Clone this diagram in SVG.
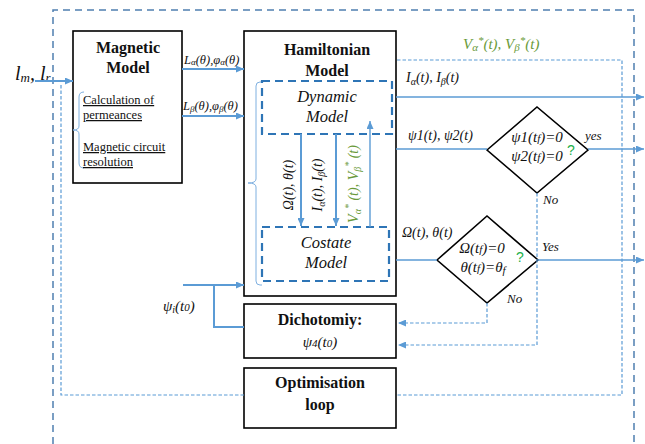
<svg xmlns="http://www.w3.org/2000/svg" width="645" height="444" viewBox="0 0 645 444">
<defs>
<style>
.box{fill:#fff;stroke:#000;stroke-width:1.6}
.sub{fill:none;stroke:#2e75b6;stroke-width:2.2;stroke-dasharray:8,5}
.outer{fill:none;stroke:#4f7fb0;stroke-width:1.5;stroke-dasharray:7,5}
.loop{fill:none;stroke:#5b9bd5;stroke-width:1.2;stroke-dasharray:3.5,2}
.ln{fill:none;stroke:#5b9bd5;stroke-width:2}
.thin{fill:none;stroke:#5b9bd5;stroke-width:1.4}
.br{fill:none;stroke:#7fb0e0;stroke-width:1}
.dia{fill:#fff;stroke:#000;stroke-width:1.6}
text{font-family:"Liberation Serif","Times New Roman",serif;fill:#111}
.b{font-weight:bold;font-size:16px}
.i{font-style:italic}
.g{fill:#6a9a3a}
.q{fill:#22b04a;font-family:"Liberation Sans",Arial,sans-serif;font-size:14px}
.u{text-decoration:underline;font-size:12.5px}
</style>
<marker id="ah" viewBox="0 0 8 7" refX="8" refY="3.5" markerWidth="8" markerHeight="7" markerUnits="userSpaceOnUse" orient="auto">
<path d="M0,0 L8,3.5 L0,7 z" fill="#5b9bd5"/>
</marker>
</defs>

<g id="outer-loop">
<path class="outer" d="M53,444 L53,10 L634,10 L634,444"/>
</g>

<g id="input-label">
<text class="i" x="15" y="80" font-size="20">l<tspan font-size="13" dy="2">m</tspan><tspan dy="-2">, l</tspan><tspan font-size="13" dy="2">r</tspan></text>
</g>

<g id="magnetic-model">
<rect class="box" x="73" y="31" width="109" height="152"/>
<text class="b" x="128" y="53" text-anchor="middle">Magnetic</text>
<text class="b" x="128" y="73" text-anchor="middle">Model</text>
<path class="br" d="M84,92 Q79,92 79,97 L79,126 Q79,130 73,130 Q79,130 79,134 L79,163 Q79,168 84,168"/>
<text class="u" x="83" y="104">Calculation of</text>
<text class="u" x="83" y="119">permeances</text>
<text class="u" x="83" y="151">Magnetic circuit</text>
<text class="u" x="83" y="166">resolution</text>
</g>

<g id="l-labels">
<text class="i" x="184" y="64" font-size="12.5">L<tspan font-size="9" dy="1">α</tspan><tspan dy="-1">(θ),φ</tspan><tspan font-size="9" dy="1">α</tspan><tspan dy="-1">(θ)</tspan></text>
<text class="i" x="183" y="110" font-size="12.5">L<tspan font-size="9" dy="2">β</tspan><tspan dy="-2">(θ),φ</tspan><tspan font-size="9" dy="2">β</tspan><tspan dy="-2">(θ)</tspan></text>
</g>

<g id="hamiltonian-model">
<rect class="box" x="244" y="31" width="152" height="265"/>
<text class="b" x="327" y="55" text-anchor="middle">Hamiltonian</text>
<text class="b" x="327" y="76" text-anchor="middle">Model</text>
<path class="br" d="M262,82 L260,82 Q256,82 256,86 L256,179 Q256,183 248,183 Q256,183 256,187 L256,281 Q256,285 260,285 L262,285"/>
</g>

<g id="dynamic-model">
<rect class="sub" x="262" y="81" width="130" height="53"/>
<text class="i" x="327" y="102" text-anchor="middle" font-size="16.5">Dynamic</text>
<text class="i" x="327" y="122" text-anchor="middle" font-size="16.5">Model</text>
</g>

<g id="costate-model">
<rect class="sub" x="262" y="227" width="127" height="54"/>
<text class="i" x="326" y="248" text-anchor="middle" font-size="16.5">Costate</text>
<text class="i" x="326" y="268" text-anchor="middle" font-size="16.5">Model</text>
</g>

<g id="inner-labels">
<text class="i" font-size="14" text-anchor="middle" transform="translate(293,185) rotate(-90)">Ω(t), θ(t)</text>
<text class="i" font-size="14" text-anchor="middle" transform="translate(322,185) rotate(-90)">I<tspan font-size="10" dy="3">α</tspan><tspan dy="-3">(t), I</tspan><tspan font-size="10" dy="3">β</tspan><tspan dy="-3">(t)</tspan></text>
<text class="i g" font-size="14" text-anchor="middle" transform="translate(358,184) rotate(-90)">V<tspan font-size="10" dy="3">α</tspan><tspan font-size="10" dy="-9">*</tspan><tspan dy="6"> (t), V</tspan><tspan font-size="10" dy="3">β</tspan><tspan font-size="10" dy="-9">*</tspan><tspan dy="6"> (t)</tspan></text>
</g>

<g id="output-labels">
<text class="i g" x="463" y="49" font-size="15">V<tspan font-size="11" dy="2">α</tspan><tspan font-size="11" dy="-7">*</tspan><tspan dy="5">(t), V</tspan><tspan font-size="11" dy="2">β</tspan><tspan font-size="11" dy="-7">*</tspan><tspan dy="5">(t)</tspan></text>
<text class="i" x="406" y="82" font-size="14">I<tspan font-size="10" dy="3">α</tspan><tspan dy="-3">(t), I</tspan><tspan font-size="10" dy="3">β</tspan><tspan dy="-3">(t)</tspan></text>
<text class="i" x="408" y="140" font-size="14">ψ1(t), ψ2(t)</text>
<text class="i" x="402" y="237" font-size="14">Ω(t), θ(t)</text>
</g>

<g id="decision-psi">
<polygon class="dia" points="487,150 537,107 588,150 537,193"/>
<text class="i" x="537" y="142" text-anchor="middle" font-size="15">ψ1(t<tspan font-size="11">f</tspan>)=0</text>
<text class="i" x="537" y="161" text-anchor="middle" font-size="15">ψ2(t<tspan font-size="11">f</tspan>)=0</text>
<text class="q" x="567" y="155">?</text>
<text class="i" x="585" y="140" font-size="13">yes</text>
<text class="i" x="543" y="204" font-size="13">No</text>
</g>

<g id="decision-omega">
<polygon class="dia" points="437,260 487,216 538,260 487,303"/>
<text class="i" x="482" y="253" text-anchor="middle" font-size="15">Ω(t<tspan font-size="11">f</tspan>)=0</text>
<text class="i" x="483" y="272" text-anchor="middle" font-size="15">θ(t<tspan font-size="11">f</tspan>)=θ<tspan font-size="11" dy="2">f</tspan></text>
<text class="q" x="516" y="262">?</text>
<text class="i" x="542" y="251" font-size="13">Yes</text>
<text class="i" x="507" y="303" font-size="13">No</text>
</g>

<g id="psi-input">
<text class="i" x="163" y="311" font-size="15">ψ<tspan font-size="10" dy="2">i</tspan><tspan dy="-2">(t</tspan><tspan font-size="11">0</tspan>)</text>
</g>

<g id="dichotomy">
<rect class="box" x="244" y="304" width="152" height="54"/>
<text class="b" x="320" y="325" text-anchor="middle">Dichotomiy:</text>
<text class="i" x="320" y="347" text-anchor="middle" font-size="15">ψ<tspan font-size="11">4</tspan>(t<tspan font-size="11">0</tspan>)</text>
</g>

<g id="optimisation-loop">
<rect class="box" x="244" y="368" width="152" height="60"/>
<text class="b" x="320" y="388" text-anchor="middle">Optimisation</text>
<text class="b" x="320" y="410" text-anchor="middle">loop</text>
</g>

<g id="connectors">
<path class="loop" d="M397,60 L622,60 L622,395 L397,395"/>
<path class="loop" d="M244,395 L61,395 L61,85"/>
<path class="ln" d="M35,81 L73,81" marker-end="url(#ah)"/>
<path class="ln" d="M182,69 L244,69" marker-end="url(#ah)"/>
<path class="ln" d="M182,116 L244,116" marker-end="url(#ah)"/>
<path class="thin" d="M396,97 L644,97" marker-end="url(#ah)"/>
<path class="thin" d="M396,149 L487,149"/>
<path class="thin" d="M588,149 L644,149" marker-end="url(#ah)"/>
<path class="thin" d="M396,260 L437,260"/>
<path class="thin" d="M538,260 L644,260" marker-end="url(#ah)"/>
<path class="loop" d="M537,193 L537,345 L398,345" marker-end="url(#ah)"/>
<path class="loop" d="M487,303 L487,323 L398,323" marker-end="url(#ah)"/>
<path class="ln" d="M183,285 L244,285" marker-end="url(#ah)"/>
<path class="ln" d="M214,285 L214,327 L244,327"/>
<path class="ln" d="M301,134 L301,226" marker-end="url(#ah)"/>
<path class="ln" d="M336,134 L336,226" marker-end="url(#ah)"/>
<path class="thin" d="M370,227 L370,121" marker-end="url(#ah)"/>
</g>
</svg>
